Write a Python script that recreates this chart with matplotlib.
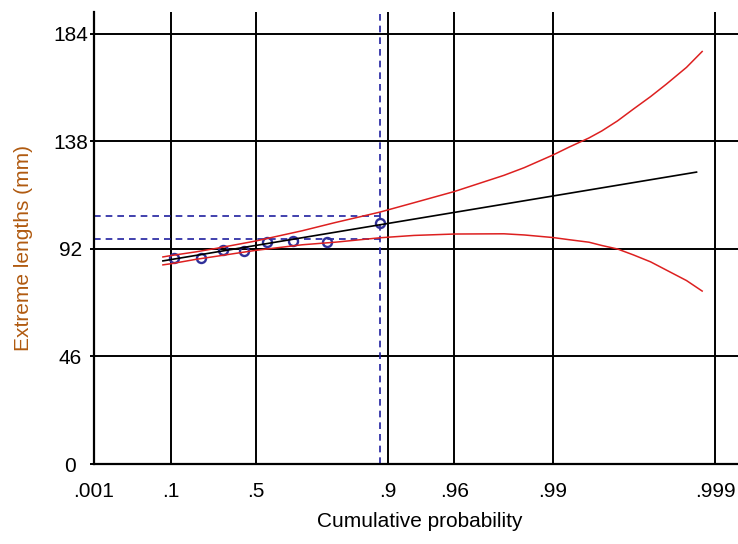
import numpy as np
import matplotlib
matplotlib.use("Agg")
import matplotlib.pyplot as plt

plt.rcParams['font.family'] = ['Liberation Sans', 'DejaVu Sans']

# probability ticks on the gumbel axis
tick_probs = [0.1, 0.5, 0.9, 0.96, 0.99, 0.999]
tick_labels = ['.1', '.5', '.9', '.96', '.99', '.999']
y_ticks = [0, 46, 92, 138, 184]

# observed extremes and their plotting positions
obs_p = [1/9, 2/9, 3/9, 4/9, 5/9, 6/9, 7/9, 8/9]
obs_val = [88, 88, 91.5, 91, 95, 95.5, 95, 103]

# fitted line (straight on gumbel paper)
fit_p = [0.075, 0.9987]
fit_val = [86.9, 124.9]

# confidence band
band_p = [0.075, 0.1, 0.2, 0.3, 0.5, 0.7, 0.8, 0.889, 0.93, 0.96, 0.98,
          0.985, 0.99, 0.992, 0.994, 0.995, 0.996, 0.9968, 0.9975, 0.998,
          0.9985, 0.9988]
band_hi = [88.6, 89.2, 90.8, 92.3, 95.4, 99.8, 103.3, 107.8, 111.8, 116.6,
           123.5, 126.8, 132.2, 135.5, 139.5, 142.5, 146.8, 151.8, 157.2,
           162.5, 169.7, 176.5]
band_lo = [85.2, 85.7, 87.6, 88.9, 91.4, 93.8, 94.9, 96.8, 97.8, 98.4,
           98.5, 98.0, 96.9, 96.0, 94.9, 93.5, 92.0, 89.5, 86.5,
           83.0, 78.5, 74.0]

# selected probability and its interval
sel_p = 8/9
sel_lo, sel_hi = 96.3, 106.2


def fwd(p):
    p = np.clip(p, 1e-12, 1 - 1e-15)
    return -np.log(-np.log(p))


def inv(y):
    return np.exp(-np.exp(-y))


fig = plt.figure(figsize=(7.38, 5.44), dpi=100)
ax = fig.add_axes([94/738, 80/544, 644/738, 452/544])
ax.set_xscale('function', functions=(fwd, inv))
ax.set_xlim(0.001, inv(7.235))
ax.set_ylim(0, 193.4)

for v in y_ticks[1:]:
    ax.axhline(v, color='black', lw=1.4, zorder=1)
for p in tick_probs:
    ax.axvline(p, color='black', lw=1.4, zorder=1)

ax.axvline(sel_p, color='#2020a0', lw=1.2, ls=(0, (4, 3)), zorder=2)
ax.plot([0.001, sel_p], [sel_hi, sel_hi], color='#2020a0', lw=1.2, ls=(0, (4, 3)), zorder=2)
ax.plot([0.001, sel_p], [sel_lo, sel_lo], color='#2020a0', lw=1.2, ls=(0, (4, 3)), zorder=2)

ax.plot(obs_p, obs_val, 'o', ms=6.5, mfc='none', mec='#30309a', mew=1.7, zorder=3)
ax.plot(fit_p, fit_val, color='black', lw=1.2, zorder=4)
ax.plot(band_p, band_hi, color='#dd2020', lw=1.1, zorder=5)
ax.plot(band_p, band_lo, color='#dd2020', lw=1.1, zorder=5)

ax.set_xticks([0.001] + tick_probs)
ax.set_xticklabels(['.001'] + tick_labels)
ax.xaxis.set_minor_locator(matplotlib.ticker.NullLocator())
ax.set_yticks(y_ticks)
ax.tick_params(axis='x', length=0, pad=13, labelsize=15)
ax.tick_params(axis='y', length=3, width=1.4, pad=14, labelsize=15)
for lab in ax.get_yticklabels():
    lab.set_ha('center')

for s in ['top', 'right']:
    ax.spines[s].set_visible(False)
for s in ['left', 'bottom']:
    ax.spines[s].set_linewidth(1.6)

ax.set_xlabel('Cumulative probability', fontsize=15)
ax.set_ylabel('Extreme lengths (mm)', fontsize=15, color='#b05a10')
ax.xaxis.set_label_coords(0.506, -0.128)
ax.xaxis.label.set_va('center')
ax.yaxis.set_label_coords(-0.109, 0.478)
ax.yaxis.label.set_va('center')

fig.savefig('out.png', dpi=100)
